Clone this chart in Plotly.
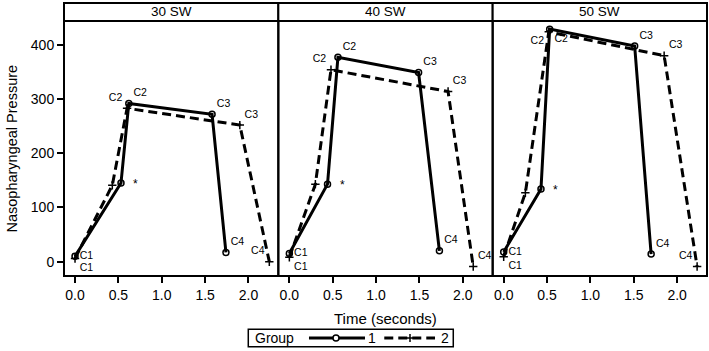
import plotly.graph_objects as go

# ---- data ----
panels = ["30 SW", "40 SW", "50 SW"]
point_labels = ["C1", "", "C2", "C3", "C4"]
x_ticks = [0.0, 0.5, 1.0, 1.5, 2.0]
y_ticks = [0, 100, 200, 300, 400]
group_names = ["1", "2"]

g1_time = [[0.0, 0.53, 0.62, 1.58, 1.74],
           [0.0, 0.44, 0.56, 1.49, 1.73],
           [0.0, 0.43, 0.53, 1.51, 1.70]]
g1_pressure = [[10, 145, 292, 272, 17],
               [15, 143, 377, 349, 20],
               [18, 134, 429, 398, 14]]
g2_time = [[0.0, 0.43, 0.60, 1.90, 2.24],
           [0.0, 0.30, 0.48, 1.83, 2.12],
           [0.0, 0.25, 0.52, 1.85, 2.23]]
g2_pressure = [[6, 141, 283, 252, 0],
               [8, 143, 354, 314, -9],
               [9, 127, 424, 380, -9]]

# label placement (style)
g1_pos = [["middle right", "top right", "top right", "top right", "top right"],
          ["middle right", "top right", "top right", "top right", "top right"],
          ["middle right", "top right", "bottom right", "top right", "top right"]]
g2_pos = [["bottom right", "top left", "top left", "top right", "top left"],
          ["bottom right", "top left", "top left", "top right", "top right"],
          ["bottom right", "top left", "bottom left", "top right", "top left"]]

FONT = "Liberation Sans, Arial, sans-serif"
DASH = "9px,5px"

fig = go.Figure()
for i in range(3):
    ax = "" if i == 0 else str(i + 1)
    fig.add_trace(go.Scatter(
        x=g1_time[i], y=g1_pressure[i], xaxis="x" + ax, yaxis="y",
        mode="lines+markers+text", text=point_labels, textposition=g1_pos[i],
        textfont=dict(size=10.5, color="black", family=FONT),
        line=dict(color="black", width=3),
        marker=dict(symbol="circle-open", size=6, color="black", line=dict(width=1.5)),
        name=group_names[0], showlegend=False, cliponaxis=False))
    fig.add_trace(go.Scatter(
        x=g2_time[i], y=g2_pressure[i], xaxis="x" + ax, yaxis="y",
        mode="lines+markers+text", text=point_labels, textposition=g2_pos[i],
        textfont=dict(size=10.5, color="black", family=FONT),
        line=dict(color="black", width=3, dash=DASH),
        marker=dict(symbol="cross-thin-open", size=6, color="black", line=dict(width=1.5)),
        name=group_names[1], showlegend=False, cliponaxis=False))

layout = dict(
    width=709, height=351,
    margin=dict(l=64, r=2, t=21, b=75, autoexpand=False),
    paper_bgcolor="white", plot_bgcolor="white",
    font=dict(family=FONT, color="black", size=14),
    showlegend=False,
    yaxis=dict(range=[-26.4, 444], tickvals=y_ticks, ticks="outside", ticklen=6,
               tickwidth=1.5, tickcolor="black", showgrid=False, zeroline=False,
               showline=False, tickfont=dict(size=14), automargin=False),
)
shapes = []
annotations = []
n = 3
for i in range(n):
    key = "xaxis" if i == 0 else "xaxis%d" % (i + 1)
    ref = "x" if i == 0 else "x%d" % (i + 1)
    layout[key] = dict(domain=[i / n, (i + 1) / n], range=[-0.127, 2.344],
                       tickvals=x_ticks, tickformat=".1f", ticks="outside", ticklen=6,
                       tickwidth=1.5, tickcolor="black", showgrid=False, zeroline=False,
                       showline=False, anchor="y", tickfont=dict(size=14),
                       automargin=False)
    # panel frame
    shapes.append(dict(type="rect", xref=ref + " domain", yref="paper",
                       x0=0, x1=1, y0=0, y1=1, line=dict(color="black", width=2)))
    # strip header
    shapes.append(dict(type="rect", xref=ref + " domain", yref="paper",
                       x0=0, x1=1, y0=1, y1=1.0706, line=dict(color="black", width=2),
                       fillcolor="white", layer="below"))
    annotations.append(dict(text=panels[i], xref=ref + " domain", yref="paper",
                            x=0.5, y=1.0353, yanchor="middle", showarrow=False,
                            font=dict(size=13.5, color="black", family=FONT)))
    # significance star beside group-1 mid point
    annotations.append(dict(text="*", xref=ref, yref="y",
                            x=g1_time[i][1], y=g1_pressure[i][1], xshift=15, yshift=-1,
                            showarrow=False, font=dict(size=12, color="black", family=FONT)))

annotations.append(dict(text="Nasopharyngeal Pressure", xref="paper", yref="paper",
                        x=-0.0824, y=0.5, textangle=-90, showarrow=False,
                        xanchor="center", yanchor="middle",
                        font=dict(size=14.5, color="black", family=FONT)))
annotations.append(dict(text="Time (seconds)", xref="paper", yref="paper",
                        x=0.5, y=-0.165, showarrow=False,
                        xanchor="center", yanchor="middle",
                        font=dict(size=15, color="black", family=FONT)))

# ---- legend (drawn in paper coordinates) ----
LY = -0.2431
shapes.append(dict(type="rect", xref="paper", yref="paper", x0=0.2866, x1=0.6054,
                   y0=-0.2773, y1=-0.209, line=dict(color="black", width=1.5),
                   fillcolor="white"))
annotations.append(dict(text="Group", xref="paper", yref="paper", x=0.2935, y=LY,
                        xanchor="left", yanchor="middle", showarrow=False,
                        font=dict(size=14, color="black", family=FONT)))
shapes.append(dict(type="line", xref="paper", yref="paper", x0=0.381, x1=0.4681,
                   y0=LY, y1=LY, line=dict(color="black", width=3)))
shapes.append(dict(type="circle", xref="paper", yref="paper", xsizemode="pixel",
                   ysizemode="pixel", xanchor=0.423, yanchor=LY, x0=-3, x1=3, y0=-3, y1=3,
                   line=dict(color="black", width=1.5), fillcolor="white"))
annotations.append(dict(text=group_names[0], xref="paper", yref="paper", x=0.4785, y=LY,
                        xanchor="center", yanchor="middle", showarrow=False,
                        font=dict(size=14, color="black", family=FONT)))
shapes.append(dict(type="line", xref="paper", yref="paper", x0=0.4981, x1=0.577,
                   y0=LY, y1=LY, line=dict(color="black", width=3, dash=DASH)))
shapes.append(dict(type="path", xref="paper", yref="paper", xsizemode="pixel",
                   ysizemode="pixel", xanchor=0.5381, yanchor=LY,
                   path="M-4,0 H4 M0,-4 V4", line=dict(color="black", width=1.5)))
annotations.append(dict(text=group_names[1], xref="paper", yref="paper", x=0.5925, y=LY,
                        xanchor="center", yanchor="middle", showarrow=False,
                        font=dict(size=14, color="black", family=FONT)))

layout["shapes"] = shapes
layout["annotations"] = annotations
fig.update_layout(**layout)
fig.write_html("out.html", config={"displayModeBar": False},
               post_script="document.body.style.margin='0px';")
